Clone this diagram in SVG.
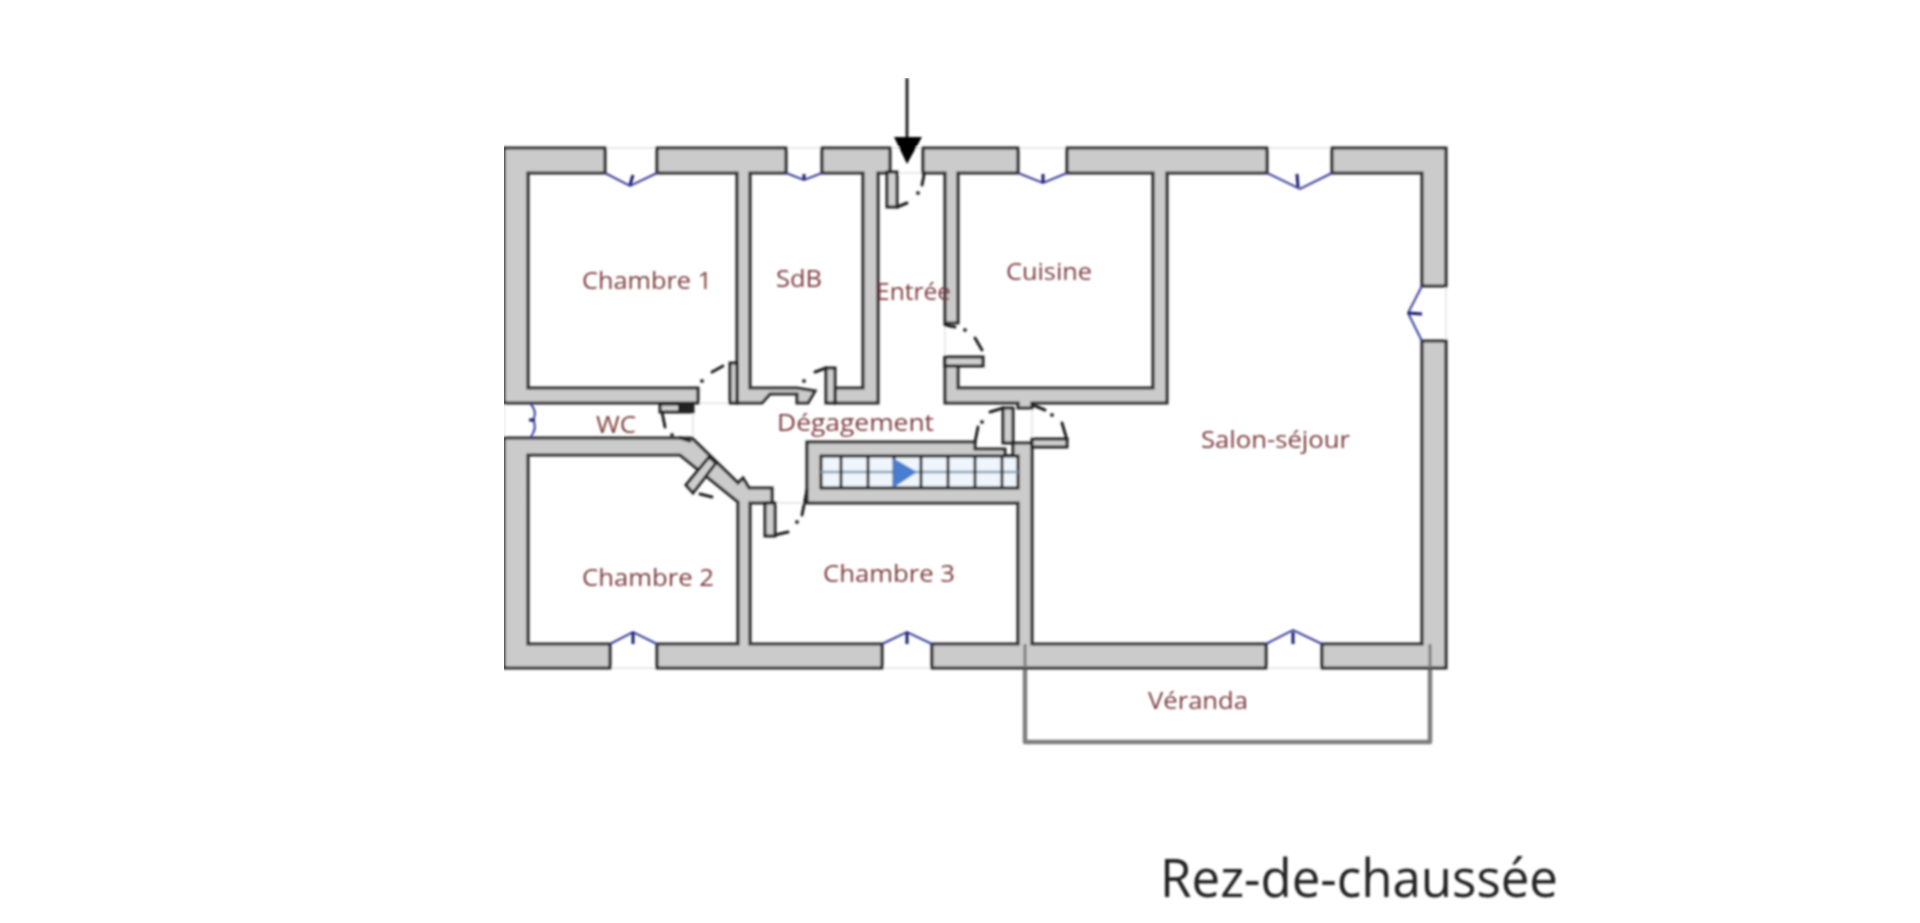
<svg xmlns="http://www.w3.org/2000/svg" width="1920" height="923" viewBox="0 0 1920 923">
<defs>
<filter id="soft" x="0" y="0" width="100%" height="100%"><feGaussianBlur stdDeviation="0.8"/></filter>
</defs>
<style>
.wall{fill:#cbcbcb;stroke:#2e2e2e;stroke-width:3.2;stroke-linejoin:miter}
.leaf{fill:#cfcfcf;stroke:#222;stroke-width:3}
.arc{fill:none;stroke:#222;stroke-width:3;stroke-linecap:round}
.dot{fill:#333}
.win{fill:none;stroke:#3a3f9a;stroke-width:2}
.tick{fill:none;stroke:#1c1f70;stroke-width:3}
.hair{fill:none;stroke:#e2e2e2;stroke-width:1.4}
.lbl{font-family:"Open Sans","Noto Sans",sans-serif;font-size:24px;fill:#7b3b3d}
.ttl{font-family:"Open Sans","Noto Sans",sans-serif;font-size:53px;fill:#222}
.tread{stroke:#222;stroke-width:2.8;fill:none}
</style>
<rect width="1920" height="923" fill="#fff"/>
<g filter="url(#soft)">
<g id="thresholds">
<path class="hair" d="M605 148H657M605 148V173M657 148V173M786 148H822M890 173H923M890 148H923M1018 148H1067M1267 148H1332M1446 286V341M610 668H657M882 668H932M1266 668H1322M504 403V438M698 403H730M835 403H880M693 403V438M945 323V358M772 503H807M1032 408V440"/>
</g>
<g id="veranda"><path d="M1025 668V742H1430V644" fill="none" stroke="#7e7e7e" stroke-width="4.5" stroke-linejoin="round"/></g>
<g id="walls">
<path class="wall" d="M504 148H605V173H528V388H698V403H504Z"/>
<path class="wall" d="M657 148H786V173H750V388H797L815 391L808 403H797V394H770L762 403H737V173H657Z"/>
<path class="wall" d="M822 148H890V173H878V403H835V388H863V173H822Z"/>
<path class="wall" d="M923 148H1018V173H958V323H945V173H923Z"/>
<path class="wall" d="M1067 148H1267V173H1167V403H1032V408H1018V403H945V358H958V388H1153V173H1067Z"/>
<path class="wall" d="M1332 148H1446V286H1422V173H1332Z"/>
<path class="wall" d="M1422 341H1446V668H1322V644H1422Z"/>
<path class="wall" d="M932 644H1018V503H807V442H975V449H1005V456H1013V443H1032V644H1266V668H932Z"/>
<path class="wall" d="M504 438H692L738 483L743 478L749 488H772V503H750V644H882V668H657V644H738V502L680 455H528V644H610V668H504Z"/>
<path d="M1025 644V668M1430 644V668" stroke="#7e7e7e" stroke-width="3" fill="none"/>
</g>
<g id="stairs">
<rect x="821" y="456" width="197" height="32" fill="#eef5fc" stroke="#222" stroke-width="3"/>
<path d="M821 472H1018" stroke="#8fa3b5" stroke-width="2.4" fill="none"/>
<path class="tread" d="M841 456V488M868 456V488M894 456V488M921 456V488M948 456V488M975 456V488M1002 456V488"/>
<path d="M893 458V488L917 472Z" fill="#4a7dd0"/>
</g>
<g id="doors">
<path class="leaf" d="M887 172H897V207H887Z"/>
<path class="arc" d="M897 207L907 203M922 185L924 175"/><circle class="dot" cx="918" cy="193" r="2"/>
<path class="leaf" d="M730 363H737V403H730Z"/>
<path class="arc" d="M712 372L723 366"/><circle class="dot" cx="702" cy="381" r="2"/>
<path class="leaf" d="M826 368H835V403H826Z"/>
<path class="arc" d="M815 372L826 368"/><circle class="dot" cx="804" cy="381" r="2"/>
<path class="leaf" d="M945 357H983V366H945Z"/>
<path class="arc" d="M945 325L955 327M975 338L982 350"/><circle class="dot" cx="965" cy="330" r="2"/>
<path class="leaf" d="M660 404H693V412H660Z"/>
<path d="M678 404H693V412H678Z" fill="#222"/>
<path class="arc" d="M662 412L665 427M680 438L690 441"/><circle class="dot" cx="672" cy="435" r="2"/>
<path class="leaf" d="M686 485L693 493L716 463L709 457Z"/>
<path class="arc" d="M700 494L712 497"/>
<path class="leaf" d="M765 503H775V536H765Z"/>
<path class="arc" d="M775 535L788 532M802 515L807 490"/><circle class="dot" cx="797" cy="522" r="2"/>
<path class="leaf" d="M1003 408H1013V443H1003Z"/>
<path class="arc" d="M1003 408L990 412M978 427L975 442"/><circle class="dot" cx="982" cy="422" r="2"/>
<path class="leaf" d="M1032 439H1067V447H1032Z"/>
<path class="arc" d="M1033 405L1045 410M1062 423L1067 440"/><circle class="dot" cx="1052" cy="415" r="2"/>
</g>
<g id="windows">
<path class="win" d="M605 173L630 186L657 173"/><path class="tick" d="M633 175L630 185"/>
<path class="win" d="M786 173L804 180L822 173"/><path class="tick" d="M804 174L804 180"/>
<path class="win" d="M1018 173L1043 183L1067 173"/><path class="tick" d="M1043 174L1043 183"/>
<path class="win" d="M1267 173L1300 189L1332 173"/><path class="tick" d="M1297 174L1298 187"/>
<path class="win" d="M1422 286L1408 313L1422 341"/><path class="tick" d="M1408 313L1422 314"/>
<path class="win" d="M610 644L633 632L657 644"/><path class="tick" d="M633 632V644"/>
<path class="win" d="M882 644L907 632L932 644"/><path class="tick" d="M907 632V644"/>
<path class="win" d="M1266 644L1293 630L1322 644"/><path class="tick" d="M1293 632V644"/>
<path class="win" d="M530 403Q538 412 533 420Q538 428 530 438"/><path class="tick" d="M529 420L535 420"/>
</g>
<g id="entry-arrow"><path d="M907 78V138" stroke="#222" stroke-width="3" fill="none"/><path d="M894 137H922L907 164Z" fill="#000"/></g>
<g id="labels">
<text class="lbl" x="582" y="289" textLength="130" lengthAdjust="spacingAndGlyphs">Chambre 1</text>
<text class="lbl" x="776" y="287" textLength="46" lengthAdjust="spacingAndGlyphs">SdB</text>
<text class="lbl" x="876" y="300" textLength="75" lengthAdjust="spacingAndGlyphs">Entrée</text>
<text class="lbl" x="596" y="433" textLength="40" lengthAdjust="spacingAndGlyphs">WC</text>
<text class="lbl" x="777" y="431" textLength="157" lengthAdjust="spacingAndGlyphs">Dégagement</text>
<text class="lbl" x="582" y="586" textLength="132" lengthAdjust="spacingAndGlyphs">Chambre 2</text>
<text class="lbl" x="823" y="582" textLength="132" lengthAdjust="spacingAndGlyphs">Chambre 3</text>
<text class="lbl" x="1006" y="280" textLength="86" lengthAdjust="spacingAndGlyphs">Cuisine</text>
<text class="lbl" x="1201" y="448" textLength="149" lengthAdjust="spacingAndGlyphs">Salon-séjour</text>
<text class="lbl" x="1148" y="709" textLength="100" lengthAdjust="spacingAndGlyphs">Véranda</text>
<text class="ttl" x="1160" y="897" textLength="398" lengthAdjust="spacingAndGlyphs">Rez-de-chaussée</text>
</g>
</g>
</svg>
